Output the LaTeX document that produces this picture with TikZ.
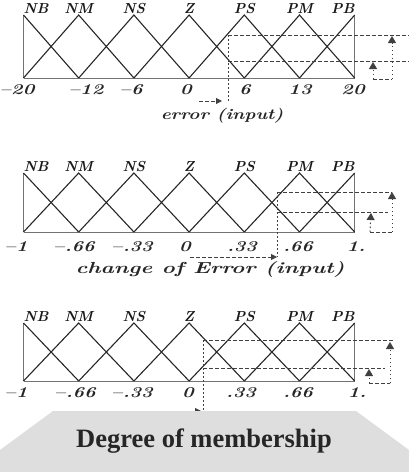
\documentclass[tikz,border=0pt]{standalone}
\usepackage{fontspec}
\usepackage{graphicx}
\usetikzlibrary{arrows.meta}
\newfontfamily\capfont{Liberation Serif}

% horizontally widened text, as on an old plotter
\newcommand\stretchtxt[2]{\scalebox{#1}[1]{#2}}

\tikzset{
  mfline/.style={draw=black!85, line width=1.1pt, line join=miter},
  sideline/.style={draw=black!55, line width=1.2pt},
  baseln/.style={draw=black!55, line width=0.9pt},
  hguide/.style={draw=black!75, line width=0.8pt, dash pattern=on 3.5pt off 2.5pt},
  vguide/.style={draw=black!75, line width=1pt, dash pattern=on 1.5pt off 2.5pt},
  uptip/.style={-{Triangle[length=7pt,width=8pt]}},
  righttip/.style={-{Triangle[length=6pt,width=6pt]}},
  setlabel/.style={font=\fontsize{14.5}{14.5}\selectfont\itshape\bfseries, inner sep=0pt, text=black!90},
  ticklabel/.style={font=\fontsize{15}{15}\selectfont\itshape\bfseries, inner sep=0pt, anchor=base, text=black!85},
  axlabel/.style={inner sep=0pt, anchor=base, text=black!85},
}

% one row of seven triangular membership functions
% #1 prefix, #2 peak y, #3 base y
\newcommand\mfpanel[3]{%
  \foreach \k/\x in {0/23.5,1/78.7,2/133.9,3/189.1,4/244.3,5/299.5,6/354.7}{
    \coordinate (#1-t\k) at (\x,#2);
    \coordinate (#1-b\k) at (\x,#3);
  }
  \draw[baseln] (#1-b0) -- (#1-b6);
  \draw[sideline] (#1-t0) -- (#1-b0);
  \draw[sideline] (#1-t6) -- (#1-b6);
  \draw[mfline] (#1-t0) -- (#1-b1);
  \foreach \k [evaluate=\k as \p using int(\k-1), evaluate=\k as \n using int(\k+1)] in {1,...,5}
    \draw[mfline] (#1-b\p) -- (#1-t\k) -- (#1-b\n);
  \draw[mfline] (#1-b5) -- (#1-t6);
  \node[setlabel, anchor=base west, yshift=1.5pt] (#1-l0) at (#1-t0) {NB};
  \foreach \k/\s in {1/NM,2/NS,3/Z,4/PS,5/PM}
    \node[setlabel, anchor=base, yshift=1.5pt] (#1-l\k) at (#1-t\k) {\s};
  \node[setlabel, anchor=base east, yshift=1.5pt] (#1-l6) at (#1-t6) {PB};
}

\begin{document}
\begin{tikzpicture}[x=1pt, y=-1pt]
\useasboundingbox (0,0) rectangle (409,472);
\clip (0,0) rectangle (409,472);

% ---------- error ----------
\mfpanel{e}{15}{78}
\foreach \x/\t [count=\i] in {17/{\textendash20},86/{\textendash12},131/{\textendash6},186/0,245/6,300/13,353/20}
  \node[ticklabel] (e-tk\i) at (\x,94) {\stretchtxt{1.3}{\t}};
\node[axlabel, font=\fontsize{15}{15}\selectfont\itshape\bfseries] (e-cap) at (222,119) {\stretchtxt{1.25}{error (input)}};

\coordinate (e-hi) at (228,35);
\coordinate (e-lo) at (228,61);
\coordinate (e-foot) at (228,101);
\coordinate (e-hiR) at (409,35);
\coordinate (e-loR) at (409,61);
\coordinate (e-bl) at (373,79);
\coordinate (e-br) at (392,79);
\coordinate (e-bigtip) at (392,36);
\coordinate (e-smtip) at (373,62);
\coordinate (e-as) at (199,101);
\coordinate (e-ae) at (222,101);
\draw[vguide] (e-hi) -- (e-foot);
\draw[hguide] (e-hi) -- (e-hiR);
\draw[hguide] (e-lo) -- (e-loR);
\draw[hguide] (e-bl) -- (e-br);
\draw[vguide, uptip] (e-br) -- (e-bigtip);
\draw[vguide, uptip] (e-bl) -- (e-smtip);
\draw[hguide, righttip] (e-as) -- (e-ae);

% ---------- change of error ----------
\mfpanel{c}{173}{232}
\foreach \x/\t [count=\i] in {16/{\textendash1},74/{\textendash.66},132/{\textendash.33},185/0,242/.33,298/.66,356/1.}
  \node[ticklabel] (c-tk\i) at (\x,251) {\stretchtxt{1.3}{\t}};
\node[axlabel, font=\fontsize{16}{16}\selectfont\itshape\bfseries] (c-cap) at (210,273) {\stretchtxt{1.4}{change of Error (input)}};

\coordinate (c-hi) at (277,192);
\coordinate (c-lo) at (277,212);
\coordinate (c-foot) at (277,257);
\coordinate (c-hiR) at (392,192);
\coordinate (c-loR) at (388,212);
\coordinate (c-bl) at (370,232);
\coordinate (c-br) at (392,232);
\coordinate (c-bigtip) at (392,192);
\coordinate (c-smtip) at (371,213);
\coordinate (c-as) at (190,257);
\draw[vguide] (c-hi) -- (c-foot);
\draw[hguide] (c-hi) -- (c-hiR);
\draw[hguide] (c-lo) -- (c-loR);
\draw[hguide] (c-bl) -- (c-br);
\draw[vguide, uptip] (c-br) -- (c-bigtip);
\draw[vguide, uptip] (c-bl) -- (c-smtip);
\draw[hguide, righttip] (c-as) -- (c-foot);

% ---------- third set ----------
\mfpanel{d}{323}{381}
\foreach \x/\t [count=\i] in {16/{\textendash1},75/{\textendash.66},132/{\textendash.33},188/0,241/.33,298/.66,357/1.}
  \node[ticklabel] (d-tk\i) at (\x,397) {\stretchtxt{1.3}{\t}};

\coordinate (d-hi) at (203,340);
\coordinate (d-lo) at (203,368);
\coordinate (d-foot) at (203,411);
\coordinate (d-hiR) at (393,340);
\coordinate (d-loR) at (385,368);
\coordinate (d-bl) at (369,383);
\coordinate (d-br) at (390,383);
\coordinate (d-bigtip) at (390,342);
\coordinate (d-smtip) at (369,369);
\coordinate (d-as) at (186,411);
\coordinate (d-ae) at (201,411);
\draw[vguide] (d-hi) -- (d-foot);
\draw[hguide] (d-hi) -- (d-hiR);
\draw[hguide] (d-lo) -- (d-loR);
\draw[hguide] (d-bl) -- (d-br);
\draw[vguide, uptip] (d-br) -- (d-bigtip);
\draw[vguide, uptip] (d-bl) -- (d-smtip);
\draw[hguide, righttip] (d-as) -- (d-ae);

% ---------- caption band ----------
\fill[black!13] (0,472) -- (0,450) -- (53,411) -- (356,411) -- (409,450) -- (409,472) -- cycle;
\node[axlabel, font=\capfont\bfseries\fontsize{26.5}{26.5}\selectfont] (caption) at (204,447) {Degree of membership};
\end{tikzpicture}
\end{document}
